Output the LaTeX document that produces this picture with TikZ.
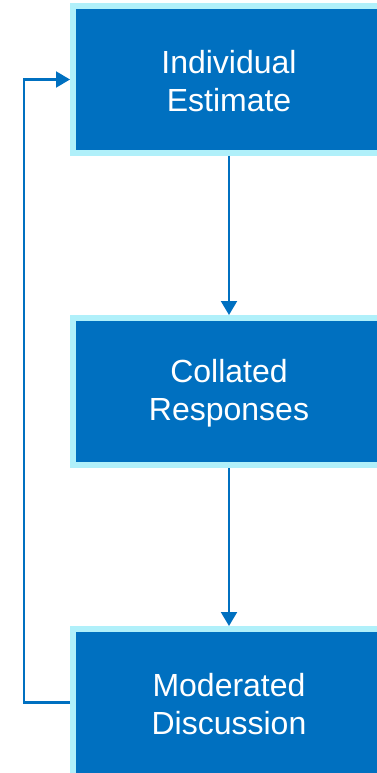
\documentclass[tikz,border=0pt]{standalone}
\usepackage{fontspec}
\setmainfont{Liberation Sans}
\usetikzlibrary{arrows.meta}
\definecolor{stepblue}{HTML}{0070C0}
\definecolor{stepedge}{HTML}{B0F0FA}
\tikzset{
  stepbox/.style={rectangle,fill=stepblue,draw=stepedge,line width=4.5pt,
    minimum width=234pt,minimum height=110.25pt,text=white,align=center,
    font=\fontsize{24pt}{28.5pt}\selectfont},
  flow/.style={draw=stepblue,line width=1.6pt,->}
}
\begin{document}
\begin{tikzpicture}[x=0.75pt,y=-0.75pt,>={Triangle[length=10.5pt,width=12pt]}]
  \useasboundingbox (0,0) rectangle (377,773);
  \clip (0,0) rectangle (377,773);
  \node[stepbox] (estimate) at (229,79.5) {\strut Individual\\Estimate};
  \node[stepbox] (collated) at (229,391.5) {\strut Collated\\Responses};
  \node[stepbox] (moderated) at (229,702.5) {\strut Moderated\\Discussion};
  \coordinate (loop) at (24,0);
  \draw[flow] (estimate) -- (collated);
  \draw[flow] (collated) -- (moderated);
  \draw[flow] (moderated.west) -- (moderated.west -| loop) |- (estimate.west);
\end{tikzpicture}
\end{document}
